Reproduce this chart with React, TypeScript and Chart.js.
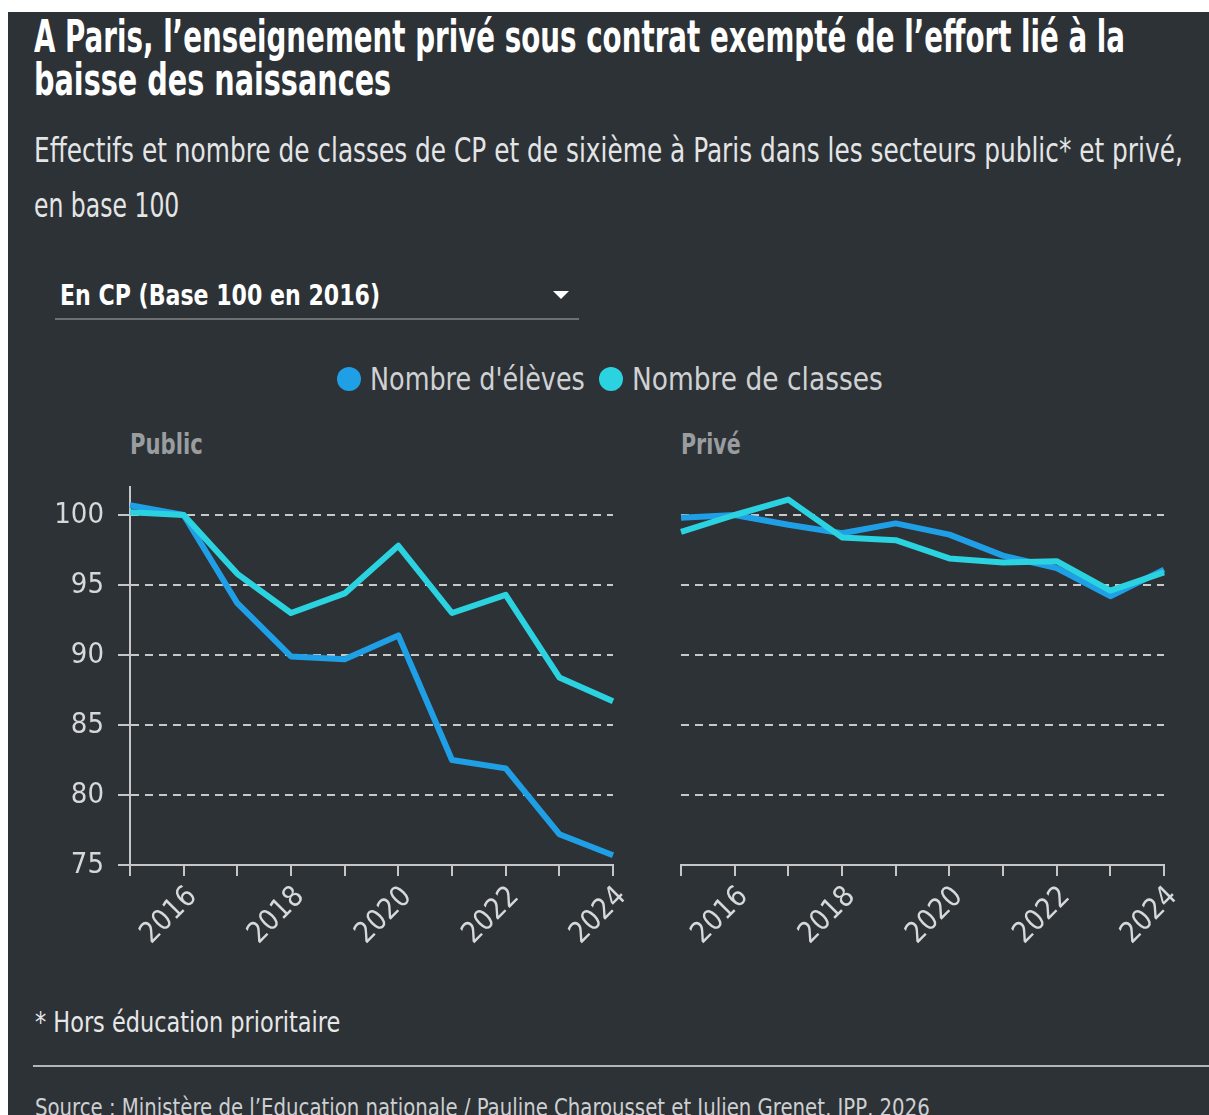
import React, { useEffect, useLayoutEffect, useRef, useState } from 'react';
import { Chart, registerables } from 'chart.js';

Chart.register(...registerables);

// ---------- data ----------
const years = ['2015', '2016', '2017', '2018', '2019', '2020', '2021', '2022', '2023', '2024'];
const publicEleves = [100.7, 100, 93.7, 89.9, 89.7, 91.4, 82.5, 81.9, 77.2, 75.7];
const publicClasses = [100.2, 100, 95.8, 93.0, 94.4, 97.8, 93.0, 94.3, 88.4, 86.7];
const priveEleves = [99.8, 100, 99.3, 98.7, 99.4, 98.6, 97.1, 96.2, 94.2, 96.1];
const priveClasses = [98.8, 100, 101.1, 98.4, 98.2, 96.9, 96.6, 96.7, 94.6, 95.9];
const yTicks = [75, 80, 85, 90, 95, 100];
const seriesNames = ["Nombre d'élèves", 'Nombre de classes'];
const panelNames = ['Public', 'Privé'];

const titleLines = [
  'A Paris, l\u2019enseignement privé sous contrat exempté de l\u2019effort lié à la',
  'baisse des naissances',
];
const subtitleLines = [
  'Effectifs et nombre de classes de CP et de sixième à Paris dans les secteurs public* et privé,',
  'en base 100',
];
const selectorLabel = 'En CP (Base 100 en 2016)';
const footnote = '* Hors éducation prioritaire';
const source = 'Source : Ministère de l\u2019Education nationale / Pauline Charousset et Julien Grenet, IPP, 2026';

// ---------- styles ----------
const FONT = "'Liberation Sans Narrow', 'DejaVu Sans Condensed', 'Liberation Sans', sans-serif";
const BG = '#2d3236';
const BLUE = '#1f9fe6';
const CYAN = '#2bd3e1';
const AXIS = '#c4c6c8';
const GRID = '#c6c8ca';
const TICK = '#d6d8da';

type FitProps = {
  text: string;
  left: number;
  baseline: number;
  width: number;
  size: number;
  weight?: number | string;
  color: string;
};

function FitText({ text, left, baseline, width, size, weight = 400, color }: FitProps) {
  const ref = useRef<HTMLSpanElement>(null);
  const [scale, setScale] = useState(1);
  useLayoutEffect(() => {
    const el = ref.current;
    if (!el) return;
    const w = el.offsetWidth;
    if (w > 0) setScale(width / w);
  }, [text, width, size]);
  return (
    <span
      ref={ref}
      style={{
        position: 'absolute',
        left,
        top: baseline - 0.8465 * size,
        fontFamily: FONT,
        fontSize: size,
        fontWeight: weight,
        color,
        whiteSpace: 'nowrap',
        lineHeight: 1,
        transform: `scaleX(${scale})`,
        transformOrigin: '0 0',
      }}
    >
      {text}
    </span>
  );
}

type PanelProps = {
  eleves: number[];
  classes: number[];
  showY: boolean;
  left: number;
  top: number;
  width: number;
  height: number;
  padding: { left: number; right: number; top: number; bottom: number };
  yWidth: number;
  xHeight: number;
};

function Panel({ eleves, classes, showY, left, top, width, height, padding, yWidth, xHeight }: PanelProps) {
  const ref = useRef<HTMLCanvasElement>(null);
  useEffect(() => {
    if (!ref.current) return;
    const chart = new Chart(ref.current, {
      type: 'line',
      data: {
        labels: years,
        datasets: [
          {
            label: seriesNames[1],
            data: classes,
            borderColor: CYAN,
            backgroundColor: CYAN,
            borderWidth: 6,
            pointRadius: 0,
            tension: 0,
            borderJoinStyle: 'round',
            order: 0,
          },
          {
            label: seriesNames[0],
            data: eleves,
            borderColor: BLUE,
            backgroundColor: BLUE,
            borderWidth: 6,
            pointRadius: 0,
            tension: 0,
            borderJoinStyle: 'round',
            order: 1,
          },
        ],
      },
      options: {
        animation: false,
        responsive: false,
        maintainAspectRatio: false,
        layout: { padding },
        plugins: {
          legend: { display: false },
          tooltip: { enabled: false },
          title: { display: false },
        },
        scales: {
          x: {
            type: 'category',
            afterFit: (s: any) => {
              s.height = xHeight;
              s.paddingLeft = 0;
              s.paddingRight = 0;
            },
            border: { display: true, color: AXIS, width: 2 },
            grid: {
              drawOnChartArea: false,
              drawTicks: true,
              tickLength: 11,
              color: AXIS,
              lineWidth: 2,
            },
            ticks: {
              autoSkip: false,
              maxRotation: 45,
              minRotation: 45,
              color: TICK,
              padding: 4,
              labelOffset: 9,
              font: { family: FONT, size: 29 },
              callback: (_v: any, i: number) => (Number(years[i]) % 2 === 0 ? years[i] : ''),
            },
          },
          y: {
            type: 'linear',
            min: 75,
            max: 102,
            afterBuildTicks: (s: any) => {
              s.ticks = yTicks.map((v) => ({ value: v }));
            },
            afterFit: (s: any) => {
              s.width = yWidth;
              s.paddingTop = 0;
              s.paddingBottom = 0;
            },
            border: { display: showY, color: AXIS, width: 2, dash: [8, 6] },
            grid: {
              color: GRID,
              lineWidth: 2,
              drawTicks: showY,
              tickLength: 12,
              tickColor: AXIS,
            },
            ticks: {
              display: showY,
              color: TICK,
              padding: 14,
              font: { family: FONT, size: 29 },
            },
          },
        },
      },
    } as any);
    return () => chart.destroy();
  }, []);
  return (
    <canvas
      ref={ref}
      width={width}
      height={height}
      style={{ position: 'absolute', left, top, width, height }}
    />
  );
}

export default function App() {
  useEffect(() => {
    document.body.style.overflow = 'hidden';
  }, []);
  return (
    <div style={{ position: 'absolute', left: 0, top: 0, width: 1209, height: 1115, overflow: 'hidden' }}>
      <div style={{ position: 'absolute', left: 8, top: 12, right: 0, bottom: 0, background: BG }} />

      <FitText text={titleLines[0]} left={34} baseline={52} width={1091} size={44} weight={700} color="#ffffff" />
      <FitText text={titleLines[1]} left={34} baseline={95} width={357} size={44} weight={700} color="#ffffff" />

      <FitText text={subtitleLines[0]} left={34} baseline={162} width={1149} size={33} color="#e4e5e6" />
      <FitText text={subtitleLines[1]} left={34} baseline={217} width={145} size={33} color="#e4e5e6" />

      <FitText text={selectorLabel} left={60} baseline={306} width={320} size={29} weight={700} color="#ffffff" />
      <div style={{ position: 'absolute', left: 553, top: 291, width: 0, height: 0, borderLeft: '8px solid transparent', borderRight: '8px solid transparent', borderTop: '8px solid #ffffff' }} />
      <div style={{ position: 'absolute', left: 55, top: 318, width: 524, height: 2, background: '#6c7073' }} />

      <div style={{ position: 'absolute', left: 337, top: 367, width: 24, height: 24, borderRadius: 12, background: BLUE }} />
      <FitText text={seriesNames[0]} left={370} baseline={390} width={215} size={32} color="#cfd1d3" />
      <div style={{ position: 'absolute', left: 599, top: 367, width: 24, height: 24, borderRadius: 12, background: CYAN }} />
      <FitText text={seriesNames[1]} left={632} baseline={390} width={251} size={32} color="#cfd1d3" />

      <FitText text={panelNames[0]} left={130} baseline={455} width={73} size={29} weight={700} color="#9a9d9f" />
      <FitText text={panelNames[1]} left={681} baseline={455} width={60} size={29} weight={700} color="#9a9d9f" />

      <Panel
        eleves={publicEleves}
        classes={publicClasses}
        showY={true}
        left={20}
        top={470}
        width={640}
        height={520}
        padding={{ left: 0, right: 47, top: 17, bottom: 0 }}
        yWidth={110}
        xHeight={125}
      />
      <Panel
        eleves={priveEleves}
        classes={priveClasses}
        showY={false}
        left={660}
        top={470}
        width={545}
        height={520}
        padding={{ left: 21, right: 41, top: 17, bottom: 0 }}
        yWidth={0}
        xHeight={125}
      />

      <FitText text={footnote} left={35} baseline={1033} width={305} size={29} color="#e6e7e8" />
      <div style={{ position: 'absolute', left: 33, top: 1065, right: 0, height: 2, background: '#b3b6b8' }} />
      <FitText text={source} left={35} baseline={1116} width={895} size={25} color="#cdd0d2" />
    </div>
  );
}
